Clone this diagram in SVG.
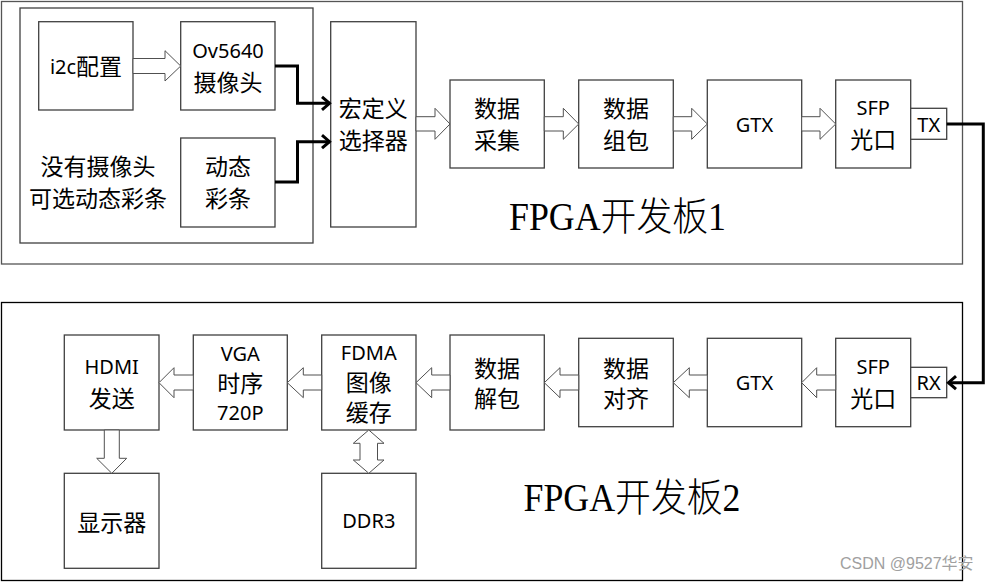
<svg xmlns="http://www.w3.org/2000/svg" width="987" height="582" viewBox="0 0 987 582">
<style>
.bx{fill:#fff;stroke:#404040;stroke-width:1.3}
.board1{fill:none;stroke:#555;stroke-width:1.3}
.board2{fill:none;stroke:#000;stroke-width:1.3}
.grp{fill:none;stroke:#404040;stroke-width:1.3}
.t{font-family:"Noto Sans","Noto Sans CJK SC",sans-serif;font-size:20px;fill:#000;text-anchor:middle;dominant-baseline:central}
.c{font-size:23px}
.title{font-family:"Liberation Serif","Noto Sans CJK SC",serif;font-size:39px;font-weight:300;fill:#000}
.ha{fill:#fff;stroke:#505050;stroke-width:1}
.wire{fill:none;stroke:#000;stroke-width:3;stroke-linejoin:miter}
.wm{font-family:"Liberation Sans","Noto Sans CJK SC",sans-serif;font-size:16px;fill:#a0a0a0}
</style>
<defs>
<marker id="ah" markerUnits="userSpaceOnUse" markerWidth="20" markerHeight="20" viewBox="-10 -10 20 20" refX="0" refY="0" orient="auto" overflow="visible">
<path d="M-8,-6.5 L-0.5,0 L-8,6.5" fill="none" stroke="#000" stroke-width="3"/>
</marker>
</defs>
<rect width="987" height="582" fill="#fff"/>

<g id="board1">
<rect class="board1" x="1.5" y="1.5" width="961" height="262.5"/>
<text class="title" x="509" y="230" textLength="217" lengthAdjust="spacingAndGlyphs">FPGA开发板1</text>
</g>
<g id="board2">
<rect class="board2" x="1.5" y="302.5" width="961" height="278"/>
<text class="title" x="523.5" y="510.7" textLength="217" lengthAdjust="spacingAndGlyphs">FPGA开发板2</text>
</g>

<g id="camera-group">
<rect class="grp" x="20" y="8" width="293" height="235"/>
<text class="t c" x="98" y="166">没有摄像头</text>
<text class="t c" x="98" y="198">可选动态彩条</text>
</g>

<g id="i2c">
<rect class="bx" x="38.7" y="21.7" width="94.3" height="88.3"/>
<text class="t" x="86" y="66">i2c<tspan class="c">配置</tspan></text>
</g>
<g id="ov5640">
<rect class="bx" x="180.7" y="21.7" width="94.3" height="88.3"/>
<text class="t" x="228" y="50">Ov5640</text>
<text class="t c" x="228" y="81.5">摄像头</text>
</g>
<g id="colorbar">
<rect class="bx" x="180.7" y="138" width="94.3" height="89"/>
<text class="t c" x="228" y="165.5">动态</text>
<text class="t c" x="228" y="198">彩条</text>
</g>
<g id="selector">
<rect class="bx" x="330.7" y="21.7" width="85.3" height="205.3"/>
<text class="t c" x="373.3" y="108">宏定义</text>
<text class="t c" x="373.3" y="140">选择器</text>
</g>
<g id="capture">
<rect class="bx" x="450" y="80" width="94.3" height="88"/>
<text class="t c" x="497" y="108">数据</text>
<text class="t c" x="497" y="140">采集</text>
</g>
<g id="pack">
<rect class="bx" x="578.7" y="80" width="94.6" height="88"/>
<text class="t c" x="626" y="108">数据</text>
<text class="t c" x="626" y="140">组包</text>
</g>
<g id="gtx1">
<rect class="bx" x="707.3" y="80" width="94.4" height="88"/>
<text class="t" x="754.5" y="124">GTX</text>
</g>
<g id="sfp1">
<rect class="bx" x="835.7" y="80" width="75" height="88"/>
<text class="t" x="873.2" y="107">SFP</text>
<text class="t c" x="873.2" y="138.5">光口</text>
</g>
<g id="tx">
<rect class="bx" x="910.7" y="108.3" width="36" height="31"/>
<text class="t" x="928.7" y="124">TX</text>
</g>

<g id="sfp2">
<rect class="bx" x="835.7" y="338.3" width="75" height="88.4"/>
<text class="t" x="873.2" y="366.7">SFP</text>
<text class="t c" x="873.2" y="398.3">光口</text>
</g>
<g id="rx">
<rect class="bx" x="910.7" y="367.3" width="36" height="30.4"/>
<text class="t" x="928.7" y="382.7">RX</text>
</g>
<g id="gtx2">
<rect class="bx" x="707.3" y="338.3" width="94.4" height="88.4"/>
<text class="t" x="754.5" y="382.7">GTX</text>
</g>
<g id="align">
<rect class="bx" x="578.7" y="338.3" width="94.6" height="88.4"/>
<text class="t c" x="626" y="368">数据</text>
<text class="t c" x="626" y="398">对齐</text>
</g>
<g id="unpack">
<rect class="bx" x="450" y="335" width="94.3" height="95"/>
<text class="t c" x="497" y="368">数据</text>
<text class="t c" x="497" y="398">解包</text>
</g>
<g id="fdma">
<rect class="bx" x="321.7" y="335" width="94.3" height="95"/>
<text class="t" x="368.8" y="352">FDMA</text>
<text class="t c" x="368.8" y="382">图像</text>
<text class="t c" x="368.8" y="412">缓存</text>
</g>
<g id="vga">
<rect class="bx" x="193.3" y="335" width="94" height="95"/>
<text class="t" x="240.3" y="353">VGA</text>
<text class="t c" x="240.3" y="383">时序</text>
<text class="t" x="240.3" y="412">720P</text>
</g>
<g id="hdmi">
<rect class="bx" x="64.3" y="335" width="94.7" height="95"/>
<text class="t" x="111.7" y="366.7">HDMI</text>
<text class="t c" x="111.7" y="398.3">发送</text>
</g>
<g id="display">
<rect class="bx" x="64.3" y="473.3" width="94.7" height="95"/>
<text class="t c" x="111.7" y="521.5">显示器</text>
</g>
<g id="ddr3">
<rect class="bx" x="321.7" y="473.3" width="94.3" height="95"/>
<text class="t" x="368.8" y="520">DDR3</text>
</g>

<g id="connectors">
<path class="ha" d="M133,58.5 H165 V50.7 L180.7,66 L165,81 V73.5 H133 Z"/>
<path class="ha" d="M416,116.7 H435 V108.3 L450,124 L435,139.3 V131 H416 Z"/>
<path class="ha" d="M544.3,116.7 H563.3 V108.3 L578.7,124 L563.3,139.3 V131 H544.3 Z"/>
<path class="ha" d="M673.3,116.7 H691.7 V108.3 L707.3,124 L691.7,139.3 V131 H673.3 Z"/>
<path class="ha" d="M801.7,116.7 H820 V108.3 L835.7,124 L820,139.3 V131 H801.7 Z"/>

<path class="ha" d="M835.7,375 H816.7 V367.7 L801.7,382.7 L816.7,397.7 V390 H835.7 Z"/>
<path class="ha" d="M707.3,375 H689.3 V367.7 L673.3,382.7 L689.3,397.7 V390 H707.3 Z"/>
<path class="ha" d="M578.7,375 H560 V367.7 L544.3,382.7 L560,397.7 V390 H578.7 Z"/>
<path class="ha" d="M450,375 H431.7 V367.7 L416,382.7 L431.7,397.7 V390 H450 Z"/>
<path class="ha" d="M321.7,375 H303.3 V367.7 L287.3,382.7 L303.3,397.7 V390 H321.7 Z"/>
<path class="ha" d="M193.3,375 H174 V367.7 L159,382.7 L174,397.7 V390 H193.3 Z"/>

<path class="ha" d="M104.3,430 V458.3 H96.7 L111.8,473.3 L126.7,458.3 H119.3 V430 Z"/>
<path class="ha" d="M368.8,430 L384,443.3 H377.5 V460 H384 L368.8,473.3 L353.3,460 H360 V443.3 H353.3 Z"/>

<polyline class="wire" points="275,66 297.5,66 297.5,103.3 330,103.3" marker-end="url(#ah)"/>
<polyline class="wire" points="275,182 297.5,182 297.5,141.7 330,141.7" marker-end="url(#ah)"/>
<polyline class="wire" points="946.7,124 983.3,124 983.3,382.7 948,382.7" marker-end="url(#ah)"/>
</g>

<text class="wm" x="840" y="569">CSDN @9527华安</text>
</svg>
